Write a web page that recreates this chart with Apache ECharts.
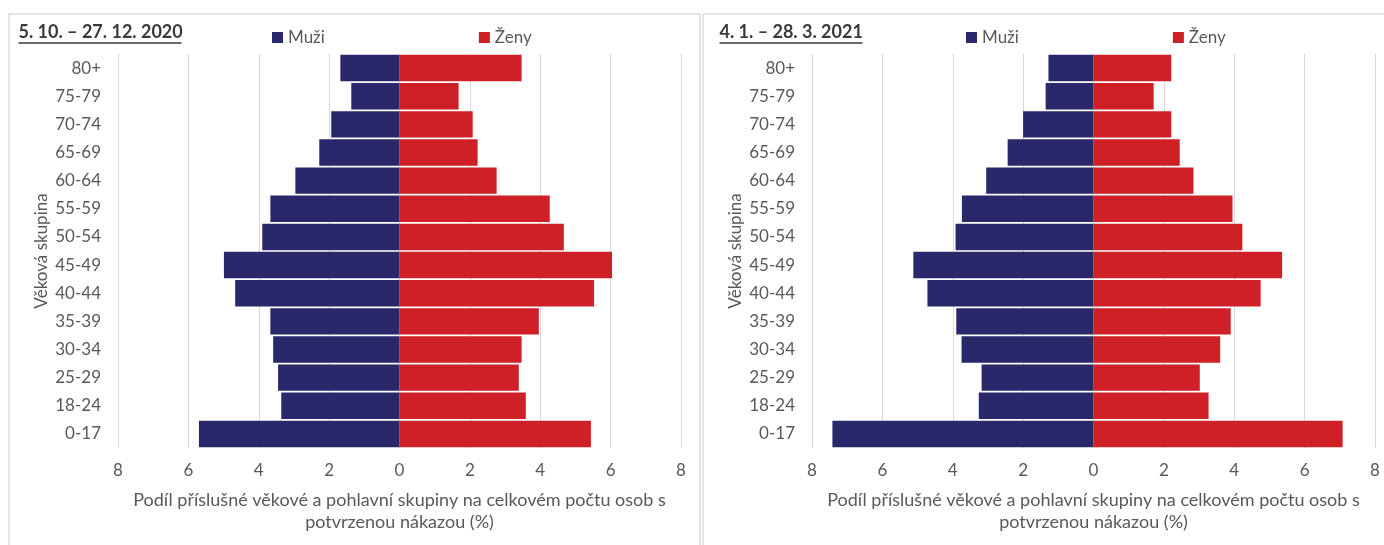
<!doctype html>
<html>
<head>
<meta charset="utf-8">
<title>Věková struktura nakažených</title>
<style>
html, body { margin: 0; padding: 0; background: #fff; }
#main { width: 1384px; height: 545px; }
</style>
</head>
<body>
<div id="main"></div>
<script src="https://cdn.jsdelivr.net/npm/echarts@6/dist/echarts.min.js"></script>
<script>
// data (% of all confirmed cases)
var ageGroups = ['0-17', '18-24', '25-29', '30-34', '35-39', '40-44', '45-49', '50-54', '55-59', '60-64', '65-69', '70-74', '75-79', '80+'];
var male2020 = [5.70, 3.36, 3.45, 3.59, 3.67, 4.67, 4.99, 3.90, 3.67, 2.96, 2.28, 1.94, 1.37, 1.68];
var female2020 = [5.44, 3.59, 3.39, 3.47, 3.96, 5.53, 6.04, 4.67, 4.27, 2.76, 2.22, 2.08, 1.68, 3.47];
var male2021 = [7.42, 3.26, 3.18, 3.75, 3.90, 4.72, 5.12, 3.92, 3.74, 3.05, 2.44, 2.00, 1.36, 1.28];
var female2021 = [7.08, 3.27, 3.02, 3.60, 3.90, 4.75, 5.36, 4.23, 3.95, 2.84, 2.45, 2.21, 1.71, 2.21];
var periods = ['5. 10. – 27. 12. 2020', '4. 1. – 28. 3. 2021'];

var FONT = 'Lato';
var GREY = '#595959';
var BLUE = '#29286b';
var RED = '#cf1f27';
var xName = 'Podíl příslušné věkové a pohlavní skupiny na celkovém počtu osob s\npotvrzenou nákazou (%)';

function neg(arr) {
  return arr.map(function (v) { return -v; });
}

function xAxis(i) {
  return {
    type: 'value', gridIndex: i, min: -8, max: 8, interval: 2,
    axisLine: { show: false }, axisTick: { show: false },
    axisLabel: { color: GREY, fontSize: 17, fontFamily: FONT, margin: 14,
      formatter: function (v) { return Math.abs(v); } },
    splitLine: { lineStyle: { color: '#d9d9d9', width: 1 } },
    name: xName, nameLocation: 'middle', nameGap: 41,
    nameTextStyle: { color: GREY, fontSize: 18, fontFamily: FONT, lineHeight: 22 }
  };
}

function yAxis(i) {
  return {
    type: 'category', gridIndex: i, data: ageGroups,
    axisLine: { show: false }, axisTick: { show: false },
    axisLabel: { color: GREY, fontSize: 17, fontFamily: FONT, margin: 17 },
    name: 'Věková skupina', nameLocation: 'middle', nameGap: 68, nameRotate: 90,
    nameTextStyle: { color: GREY, fontSize: 17, fontFamily: FONT }
  };
}

function bar(name, i, data, color) {
  return {
    name: name, type: 'bar', xAxisIndex: i, yAxisIndex: i, data: data,
    barGap: '-100%', barCategoryGap: '6%',
    itemStyle: { color: color }
  };
}

function legend(left) {
  return {
    left: left, top: 24, itemWidth: 11, itemHeight: 11, icon: 'rect', itemGap: 154,
    data: ['Muži', 'Ženy'],
    textStyle: { color: GREY, fontSize: 17, fontFamily: FONT }
  };
}

function titleText(x, text, w) {
  return {
    type: 'group', left: x, top: 23,
    children: [
      { type: 'text', style: { text: text, fill: '#3a3a3a', font: 'bold 18px ' + FONT } },
      { type: 'line', shape: { x1: 0, y1: 20, x2: w, y2: 20 }, style: { stroke: '#3a3a3a', lineWidth: 1.5 } }
    ]
  };
}

var myChart = echarts.init(document.getElementById('main'));

var option = {
  animation: false,
  grid: [
    { left: 118, right: 703, top: 54, bottom: 97 },
    { left: 812, right: 9, top: 54, bottom: 97 }
  ],
  legend: [legend(267), legend(961)],
  xAxis: [xAxis(0), xAxis(1)],
  yAxis: [yAxis(0), yAxis(1)],
  series: [
    bar('Muži', 0, neg(male2020), BLUE),
    bar('Ženy', 0, female2020, RED),
    bar('Muži', 1, neg(male2021), BLUE),
    bar('Ženy', 1, female2021, RED)
  ],
  graphic: [
    // panel frames
    { type: 'polyline', silent: true, shape: { points: [[9, 545], [9, 14], [700, 14], [700, 545]] },
      style: { stroke: '#dcdcdc', lineWidth: 1.5, fill: null } },
    { type: 'polyline', silent: true, shape: { points: [[703, 545], [703, 14], [1384, 14]] },
      style: { stroke: '#dcdcdc', lineWidth: 1.5, fill: null } },
    titleText(16, periods[0], 163),
    titleText(717, periods[1], 143)
  ]
};

myChart.setOption(option);
</script>
</body>
</html>
